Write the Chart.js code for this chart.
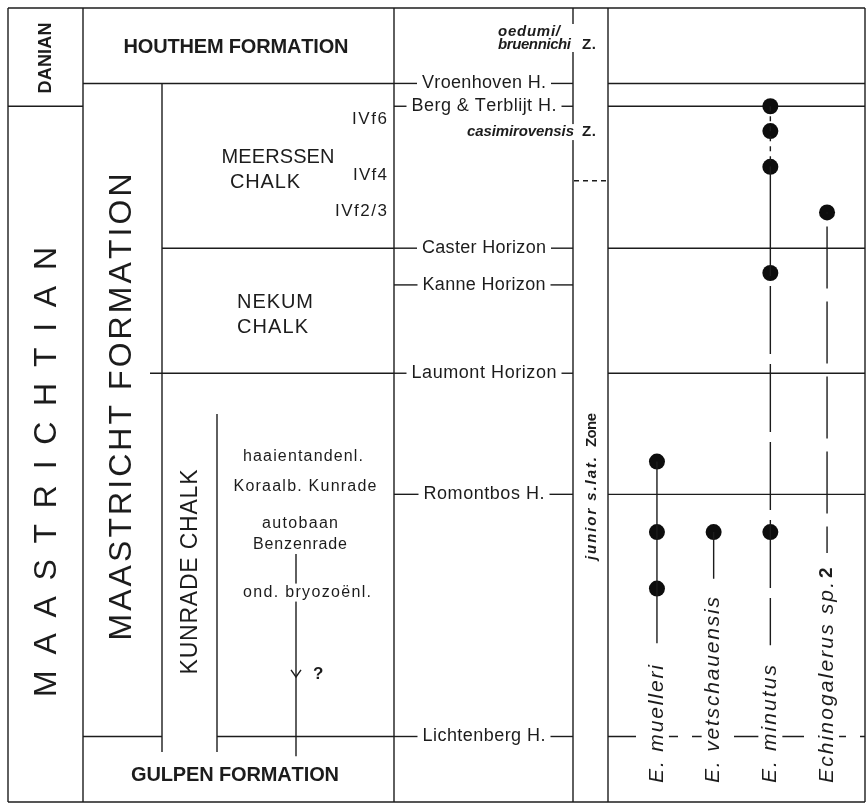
<!DOCTYPE html>
<html>
<head>
<meta charset="utf-8">
<script src="https://cdn.jsdelivr.net/npm/chart.js@4.4.1/dist/chart.umd.min.js"></script>
<style>html,body{margin:0;background:#fff}canvas{display:block}</style>
</head>
<body>
<canvas id="strat" width="867" height="810"></canvas>
<script>
// stratigraphic level: 0 = base of figure, 800 = top of figure
const species = ['E. muelleri', 'E. vetschauensis', 'E. minutus', 'Echinogalerus sp. 2'];
const muelleriFinds = [343, 272, 215];
const vetschauensisFinds = [272];
const minutusFinds = [701, 676, 640, 533, 272];
const echinogalerusFinds = [594];
// range lines: top, style breaks, base
const muelleriRange = [343, 160];
const vetschauensisRange = [272, 225];
const minutusRange = [701, 640, 533, 158];
const echinogalerusRange = [594, 251];

const horizons = ['Vroenhoven H.', 'Berg & Terblijt H.', 'Caster Horizon', 'Kanne Horizon', 'Laumont Horizon', 'Romontbos H.', 'Lichtenberg H.'];
const horizonLevels = [724, 701, 558, 521, 432, 310, 66];

const meerssenBeds = ['IVf6', 'IVf4', 'IVf2/3'];
const meerssenBedLevels = [688, 631, 595];
const kunradeSites = ['haaientandenl.', 'Koraalb. Kunrade', 'autobaan', 'Benzenrade', 'ond. bryozoënl.'];
const kunradeSiteLevels = [348, 318, 281, 259, 211];
const casimirovensisLevel = 675;
const zoneBoundary = 626;

const INK = '#1c1c1c';
const FAM = "'Liberation Sans', Arial, sans-serif";
const F = (size, style) => `${style || ''} ${size}px ${FAM}`;

// draws text stretched to a given width, char by char
function spaced(ctx, str, x, y, w, font, o) {
    o = o || {};
    ctx.save();
    ctx.font = font;
    ctx.translate(x, y);
    if (o.rot) ctx.rotate(-Math.PI / 2);
    const chars = [...str];
    const ws = chars.map(ch => ctx.measureText(ch).width);
    const nat = ws.reduce((a, b) => a + b, 0);
    const gap = chars.length > 1 ? (w - nat) / (chars.length - 1) : 0;
    let x0 = o.align === 'left' ? 0 : o.align === 'right' ? -w : -w / 2;
    if (o.bg) { ctx.fillStyle = '#fff'; ctx.fillRect(x0 - o.bg, -o.h / 2, w + 2 * o.bg, o.h); }
    ctx.fillStyle = INK; ctx.textBaseline = 'middle'; ctx.textAlign = 'left';
    chars.forEach((ch, i) => { ctx.fillText(ch, x0, 0); x0 += ws[i] + gap; });
    ctx.restore();
}

const framePlugin = {
    id: 'frame',
    beforeDatasetsDraw(chart) {
        const c = chart.ctx, ys = chart.scales.y, xs = chart.scales.x;
        const Y = v => ys.getPixelForValue(v);
        const top = Y(800), bot = Y(0);
        const seg = (x1, y1, x2, y2, dash) => { c.setLineDash(dash || []); c.beginPath(); c.moveTo(x1, y1); c.lineTo(x2, y2); c.stroke(); };
        const T = (s, px, py, w, font, o) => spaced(c, s, px, py, w, font, o);
        c.save();
        c.strokeStyle = INK; c.lineWidth = 1.4;

        // frame and column walls
        [8, 83, 394, 573, 608, 865].forEach(px => seg(px, top, px, bot));
        seg(8, top, 865, top); seg(8, bot, 865, bot);
        seg(162, Y(horizonLevels[0]), 162, 752);
        seg(217, 414, 217, 752);

        // horizons
        const leftRuns = [[[83, 394]], [[8, 83]], [[162, 394]], [], [[150, 394]], [], [[83, 162], [217, 394]]];
        const hzW = [124, 145, 124, 123, 145, 121, 123];
        horizons.forEach((h, i) => {
            const py = Y(horizonLevels[i]);
            leftRuns[i].forEach(r => seg(r[0], py, r[1], py));
            seg(394, py, 484 - hzW[i] / 2 - 5, py);
            seg(484 + hzW[i] / 2 + 5, py, 573, py);
            if (i === 6) seg(608, py, 865, py, [28, 14]);
            else if (i !== 3) seg(608, py, 865, py);
        });
        seg(574, Y(zoneBoundary), 608, Y(zoneBoundary), [5, 4]);

        // arrow in Kunrade Chalk
        seg(296, Y(250), 296, Y(46));
        const tip = Y(126);
        c.setLineDash([]); c.beginPath(); c.moveTo(291, tip - 7); c.lineTo(296, tip); c.lineTo(301, tip - 7); c.stroke();

        // gaps in zone wall behind zone names
        c.fillStyle = '#fff';
        c.fillRect(566, 24, 12, 28);
        c.fillRect(566, Y(casimirovensisLevel) - 8, 12, 16);

        // names of units
        T('DANIAN', 46, 58, 71, F(18, 'bold'), { rot: true });
        T('HOUTHEM FORMATION', 236, 47, 225, F(20, 'bold'));
        T('MAASTRICHTIAN', 47, 472, 450, F(32), { rot: true });
        T('MAASTRICHT FORMATION', 122, 407, 467, F(32), { rot: true });
        T('MEERSSEN', 278, 157, 113, F(20));
        T('CHALK', 265, 182, 70, F(20));
        T('NEKUM', 237, 302, 76, F(20), { align: 'left' });
        T('CHALK', 237, 327, 71, F(20), { align: 'left' });
        T('KUNRADE CHALK', 191, 572, 205, F(23), { rot: true });
        T('GULPEN FORMATION', 235, 775, 208, F(20, 'bold'));

        const bedW = [35, 34, 52];
        meerssenBeds.forEach((b, i) => T(b, 387, Y(meerssenBedLevels[i]), bedW[i], F(17), { align: 'right' }));
        const siteX = [303, 305, 300, 300, 307], siteW = [120, 143, 76, 94, 128];
        kunradeSites.forEach((s, i) => T(s, siteX[i], Y(kunradeSiteLevels[i]), siteW[i], F(16), i === 4 ? { bg: 3, h: 18 } : {}));
        T('?', 313, Y(129), 9, F(17, 'bold'), { align: 'left' });

        horizons.forEach((h, i) => T(h, 484, Y(horizonLevels[i]), hzW[i], F(18)));

        // zones
        T('oedumi/', 498, 32, 62, F(15, 'italic bold'), { align: 'left' });
        T('bruennichi', 498, 45, 73, F(15, 'italic bold'), { align: 'left' });
        T('Z.', 582, 45, 14, F(15, 'bold'), { align: 'left' });
        T('casimirovensis', 467, Y(casimirovensisLevel), 107, F(15, 'italic bold'), { align: 'left' });
        T('Z.', 582, Y(casimirovensisLevel), 14, F(15, 'bold'), { align: 'left' });
        T('junior s.lat.', 592, 560, 103, F(15, 'italic bold'), { rot: true, align: 'left' });
        T('Zone', 592, 447, 34, F(15, 'bold'), { rot: true, align: 'left' });

        // species names
        const spW = [118, 186, 118, 201];
        species.forEach((s, i) => {
            const px = xs.getPixelForValue(i);
            const name = i === 3 ? 'Echinogalerus sp.' : s;
            T(name, px, 783, spW[i], F(21, 'italic'), { rot: true, align: 'left', bg: 6, h: 24 });
            if (i === 3) T('2', px, 578, 11, F(19, 'bold'), { rot: true, align: 'left', bg: 2, h: 24 });
        });
        c.restore();
    }
};

// each piece of a range line is its own dataset so that it keeps its own dash
const rangeStyles = [
    [{ dash: [], off: 0 }],
    [{ dash: [], off: 0 }],
    [{ dash: [5, 5], off: 0 }, { dash: [], off: 0 }, { dash: [68, 10], off: 65 }],
    [{ dash: [62, 13], off: 61 }]
];
const ranges = [muelleriRange, vetschauensisRange, minutusRange, echinogalerusRange];
const rangeSets = ranges.flatMap((r, i) => r.slice(1).map((v, k) => ({
    data: [{ x: species[i], y: r[k] }, { x: species[i], y: v }],
    borderColor: INK, borderWidth: 1.4, pointRadius: 0,
    borderDash: rangeStyles[i][k].dash,
    borderDashOffset: rangeStyles[i][k].off
})));
const finds = [muelleriFinds, vetschauensisFinds, minutusFinds, echinogalerusFinds]
    .flatMap((lv, i) => lv.map(v => ({ x: species[i], y: v })));

new Chart(document.getElementById('strat'), {
    type: 'line',
    data: {
        labels: species,
        datasets: [...rangeSets, {
            data: finds, showLine: false, pointRadius: 8,
            pointBackgroundColor: '#0d0d0d', pointBorderWidth: 0
        }]
    },
    options: {
        responsive: false, animation: false, devicePixelRatio: 1,
        layout: { padding: { left: 628.6, right: 11.6, top: 8, bottom: 2 } },
        scales: {
            x: { type: 'category', offset: true, display: false },
            y: { type: 'linear', min: 0, max: 800, display: false }
        },
        plugins: { legend: { display: false }, tooltip: { enabled: false } },
        events: []
    },
    plugins: [framePlugin]
});
</script>
</body>
</html>
